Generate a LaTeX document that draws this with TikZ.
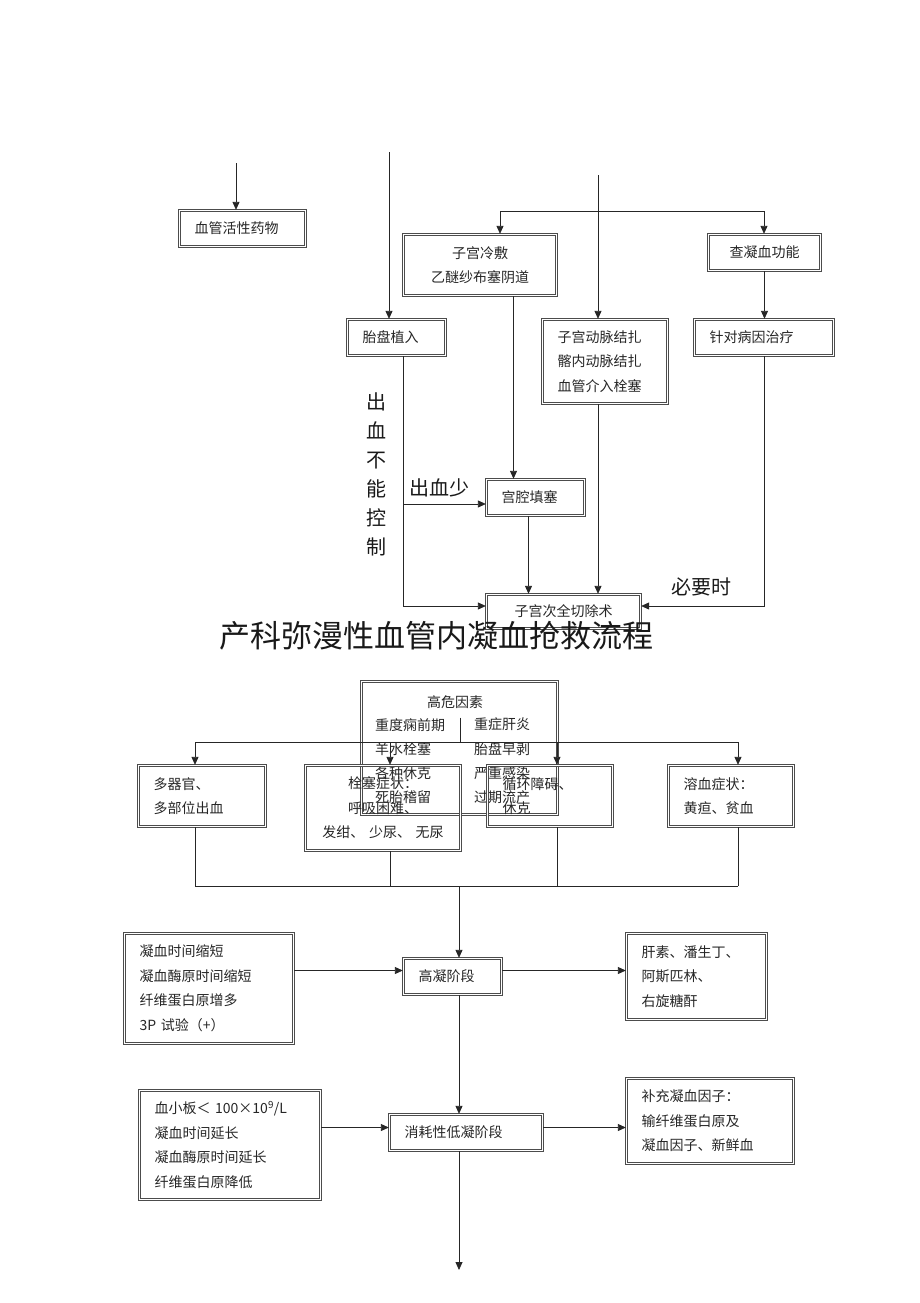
\documentclass[tikz,border=0pt]{standalone}
\usepackage{fontspec}
\setmainfont{Noto Sans CJK SC}
\usetikzlibrary{arrows.meta}

\tikzset{
  dicbox/.style={draw=black!70, double=white, double distance=1.2pt, line width=1.3pt,
    inner xsep=15pt, inner ysep=0pt, align=left, text=black!85,
    font=\fontsize{14}{24.5}\selectfont},
  midbox/.style={dicbox, align=center},
  plain/.style={inner sep=0pt, text=black!85, font=\fontsize{14}{24.2}\selectfont},
  note/.style={inner sep=0pt, text=black!90, align=center, font=\fontsize{20}{29}\selectfont},
  link/.style={draw=black!85, line width=0.8pt},
  arr/.style={link, -{Triangle[length=8pt,width=7pt]}},
}

\begin{document}
\begin{tikzpicture}[x=1pt, y=-1pt]
\useasboundingbox (0,0) rectangle (920,1303);

% upper part: bleeding control
\node[dicbox, text width=96pt, minimum height=36pt] (vaso) at (242.5,228.5) {血管活性药物};
\node[midbox, text width=123pt, minimum height=61pt] (cold) at (480,265) {子宫冷敷\\乙醚纱布塞阴道};
\node[midbox, text width=82pt, minimum height=36pt] (coag) at (764.5,252.5) {查凝血功能};
\node[dicbox, text width=68pt, minimum height=36pt] (placenta) at (396.5,337.5) {胎盘植入};
\node[dicbox, text width=95pt, minimum height=84pt] (artery) at (605,361.5) {子宫动脉结扎\\髂内动脉结扎\\血管介入栓塞};
\node[dicbox, text width=109pt, minimum height=36pt] (cause) at (764,337.5) {针对病因治疗};
\node[dicbox, text width=68pt, minimum height=36pt] (pack) at (535.5,497.5) {宫腔填塞};
\node[midbox, text width=124pt, minimum height=34pt] (hyst) at (563.5,611.5) {子宫次全切除术};

\node[note] (nocontrol) at (376,474.5) {出\\血\\不\\能\\控\\制};
\node[note] (little) at (439,488) {出血少};
\node[note] (needed) at (701,587) {必要时};

\coordinate (vasoin) at (236,163);
\coordinate (placin) at (389,152);
\coordinate (artin) at (598,175);
\coordinate (forkL) at (500,211);
\coordinate (forkR) at (764,211);
\coordinate (lessbleed) at (403,504);
\coordinate (leftbend) at (403,606);
\coordinate (rightbend) at (764,606);

\draw[arr] (vasoin) -- (vasoin |- vaso.north);
\draw[arr] (placin) -- (placin |- placenta.north);
\draw[arr] (artin) -- (artin |- artery.north);
\draw[arr] (forkR) -- (forkL) -- (forkL |- cold.north);
\draw[arr] (forkR) -- (forkR |- coag.north);
\draw[arr] (coag.south) -- (coag.south |- cause.north);
\draw[arr] ([xshift=-22pt]pack.north |- cold.south) -- ([xshift=-22pt]pack.north);
\draw[arr] ([xshift=-7pt]pack.south) -- ([xshift=-7pt]pack.south |- hyst.north);
\draw[arr] ([xshift=-7pt]artery.south) -- ([xshift=-7pt]artery.south |- hyst.north);
\draw[arr] (placenta.south -| leftbend) -- (leftbend) -- (leftbend -| hyst.west);
\draw[arr] (lessbleed) -- (lessbleed -| pack.west);
\draw[arr] (cause.south) -- (rightbend) -- (rightbend -| hyst.east);

% title
\node[inner sep=0pt, text=black!90, font=\fontsize{31}{31}\selectfont] (title) at (436,636) {产科弥漫性血管内凝血抢救流程};

% risk factors and symptoms
\node[dicbox, minimum width=196pt, minimum height=133pt] (risk) at (459.5,748) {};
\node[plain] (risktitle) at (455,702) {高危因素};
\node[plain, anchor=west, align=left] (riskA) at (375,761) {重度痫前期\\羊水栓塞\\各种休克\\死胎稽留};
\node[plain, anchor=west, align=left] (riskB) at (474,761) {重症肝炎\\胎盘早剥\\严重感染\\过期流产};

\node[dicbox, text width=97pt, minimum height=61pt] (organ) at (202,796) {多器官、\\多部位出血};
\node[midbox, text width=125pt, minimum height=85pt] (embol) at (383,808) {栓塞症状：\\呼吸困难、\\发绀、 少尿、 无尿};
\node[dicbox, text width=95pt, minimum height=61pt] (circ) at (550,796) {循环障碍、\\休克};
\node[dicbox, text width=95pt, minimum height=61pt] (hemo) at (731,796) {溶血症状：\\黄疸、贫血};

\coordinate (riskfork) at (460,742);
\coordinate (joinL) at (195,886);
\coordinate (joinR) at (738,886);
\coordinate (joinC) at (459,886);

\draw[link] (risktitle.south -| riskfork) ++(0,9) -- (riskfork);
\draw[link] (195,742) -- (738,742);
\foreach \x/\n in {195/organ, 390/embol, 557/circ, 738/hemo} {
  \draw[arr] (\x,742) -- (\x,742 |- \n.north);
  \draw[link] (\x,886 |- \n.south) -- (\x,886);
}
\draw[link] (joinL) -- (joinR);

% lower part: stages
\node[dicbox, text width=68pt, minimum height=36pt] (hyper) at (452.5,976.5) {高凝阶段};
\node[dicbox, text width=139pt, minimum height=110pt] (hyperlab) at (209,988.5) {凝血时间缩短\\凝血酶原时间缩短\\纤维蛋白原增多\\3P 试验（+）};
\node[dicbox, text width=110pt, minimum height=86pt] (heparin) at (696.5,976.5) {肝素、潘生丁、\\阿斯匹林、\\右旋糖酐};
\node[dicbox, text width=123pt, minimum height=36pt] (consume) at (466,1132.5) {消耗性低凝阶段};
\node[dicbox, text width=151pt, minimum height=109pt] (consumelab) at (230,1145) {血小板＜ 100×10\textsuperscript{9}/L\\凝血时间延长\\凝血酶原时间延长\\纤维蛋白原降低};
\node[dicbox, text width=137pt, minimum height=85pt] (supply) at (710,1121) {补充凝血因子：\\输纤维蛋白原及\\凝血因子、新鲜血};

\coordinate (finish) at (459,1270);

\draw[arr] (joinC) -- (joinC |- hyper.north);
\draw[arr] (joinC |- hyper.south) -- (joinC |- consume.north);
\draw[arr] (finish |- consume.south) -- (finish);
\draw[arr] ([yshift=6pt]hyper.west -| hyperlab.east) -- ([yshift=6pt]hyper.west);
\draw[arr] ([yshift=6pt]hyper.east) -- ([yshift=6pt]hyper.east -| heparin.west);
\draw[arr] ([yshift=5pt]consume.west -| consumelab.east) -- ([yshift=5pt]consume.west);
\draw[arr] ([yshift=5pt]consume.east) -- ([yshift=5pt]consume.east -| supply.west);
\end{tikzpicture}
\end{document}
